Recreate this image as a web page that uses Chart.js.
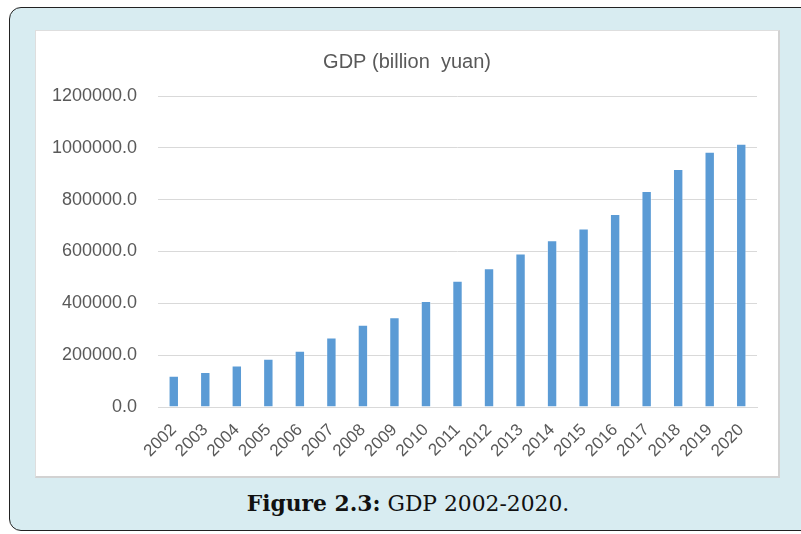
<!DOCTYPE html>
<html>
<head>
<meta charset="utf-8">
<script src="https://cdn.jsdelivr.net/npm/chart.js@4/dist/chart.umd.min.js"></script>
<style>
  html, body { margin: 0; padding: 0; background: #ffffff; overflow: hidden; }
  body { width: 801px; height: 534px; position: relative; }
  #frame {
    position: absolute; left: 9px; top: 7px; width: 820px; height: 522px;
    background: #d8ecf1; border: 1.5px solid #222; border-radius: 12px;
  }
  #panel {
    position: absolute; left: 35px; top: 30px; width: 742px; height: 445px;
    background: #ffffff; border: 1px solid #dedede;
    border-right: 2px solid #d2d2d2; border-bottom: 2px solid #d2d2d2;
  }
  #panel canvas { position: absolute; left: 0; top: 0; }
  #caption {
    position: absolute; left: 0; width: 816px; top: 491px; text-align: center;
    font-family: "DejaVu Serif", serif; font-size: 21.8px; color: #111;
  }
</style>
</head>
<body>
<div id="frame"></div>
<div id="panel"><canvas id="gdp" width="742" height="445"></canvas></div>
<div id="caption"><b>Figure 2.3:</b> GDP 2002-2020.</div>
<script>
// values
const years = ['2002', '2003', '2004', '2005', '2006', '2007', '2008', '2009', '2010', '2011',
               '2012', '2013', '2014', '2015', '2016', '2017', '2018', '2019', '2020'];
const gdp = [120500, 135000, 160000, 186000, 217000, 268000, 317000, 346000, 409000, 487000,
             535000, 592000, 643000, 689000, 745000, 833000, 918500, 985000, 1015500];
const yMin = 0;
const yMax = 1200000;
const yStep = 200000;

const textGray = '#595959';

// centre the title on the whole panel, not on the padded box
const centreTitle = {
    id: 'centreTitle',
    afterLayout: function (chart) {
        if (chart.titleBlock) {
            chart.titleBlock.left = 0;
            chart.titleBlock.right = chart.width;
        }
    }
};

new Chart(document.getElementById('gdp'), {
    type: 'bar',
    data: {
        labels: years,
        datasets: [{
            label: 'GDP (billion yuan)',
            data: gdp,
            backgroundColor: '#5b9bd5',
            borderColor: 'rgba(255,255,255,0.45)',
            borderWidth: 1,
            categoryPercentage: 1,
            barPercentage: 0.33
        }]
    },
    options: {
        responsive: false,
        animation: false,
        layout: { padding: { left: 0, right: 21, top: 0, bottom: 0 } },
        plugins: {
            legend: { display: false },
            tooltip: { enabled: false },
            title: {
                display: true,
                text: 'GDP (billion  yuan)',
                color: textGray,
                font: { family: 'Liberation Sans', size: 20, weight: 'normal' },
                padding: { top: 19, bottom: 22 }
            }
        },
        scales: {
            x: {
                grid: { display: false, drawTicks: false },
                border: { color: '#d9d9d9', width: 1 },
                ticks: {
                    color: textGray,
                    font: { family: 'Liberation Sans', size: 17 },
                    minRotation: 45,
                    maxRotation: 45,
                    padding: 13,
                    autoSkip: false
                },
                afterFit: function (scale) { scale.height = 69; }
            },
            y: {
                min: yMin,
                max: yMax,
                grid: { color: '#d9d9d9', lineWidth: 1, drawTicks: false },
                border: { display: false },
                ticks: {
                    stepSize: yStep,
                    color: textGray,
                    font: { family: 'Liberation Sans', size: 18 },
                    padding: 21,
                    callback: function (value) { return value.toFixed(1); }
                },
                afterFit: function (scale) { scale.width = 122; }
            }
        }
    },
    plugins: [centreTitle]
});
</script>
</body>
</html>
